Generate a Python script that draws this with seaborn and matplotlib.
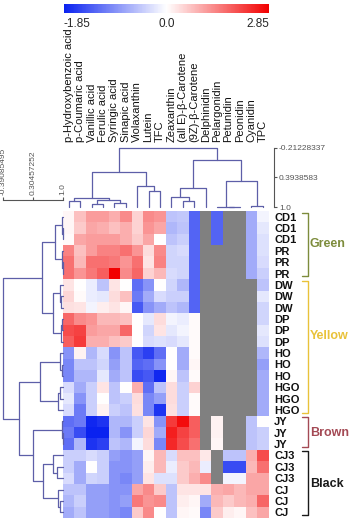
import numpy as np
import pandas as pd
import matplotlib
matplotlib.use("Agg")
import matplotlib.pyplot as plt
import seaborn as sns
from matplotlib.colors import LinearSegmentedColormap, TwoSlopeNorm

# ---------------- data ----------------
nan = np.nan

compounds = ["p-Hydroxybenzoic acid", "p-Coumaric acid", "Vanillic acid", "Ferulic acid",
             "Syringic acid", "Sinapic acid", "Violaxanthin", "Lutein", "TFC", "Zeaxanthin",
             "(all E)-\u03b2-Carotene", "(9Z)-\u03b2-Carotene", "Delphinidin", "Pelargonidin",
             "Petunidin", "Peonidin", "Cyanidin", "TPC"]

samples = ["CD1", "CD1", "CD1", "PR", "PR", "PR",
           "DW", "DW", "DW", "DP", "DP", "DP", "HO", "HO", "HO", "HGO", "HGO", "HGO",
           "JY", "JY", "JY",
           "CJ3", "CJ3", "CJ3", "CJ", "CJ", "CJ"]

values = [
    [0.1, 0.7, 1.1, 1.1, 0.9, 1.3, 0.5, 1.3, 1.2, -0.5, -0.45, -1.3, nan, -1.3, nan, nan, -0.7, -0.1],
    [0.1, 0.6, 1.0, 0.9, 0.7, 0.9, 0.5, 1.2, 1.0, -0.6, -0.5, -1.3, nan, -1.3, nan, nan, -0.7, -0.2],
    [0.05, 1.0, 1.1, 1.1, 1.1, 0.9, 0.6, 1.0, 0.0, -0.5, -0.4, -1.3, nan, -1.3, nan, nan, -0.7, -0.25],
    [1.4, 0.7, 1.1, 1.4, 1.4, 1.6, 1.2, 0.4, 1.3, -0.35, -0.3, -1.3, nan, nan, nan, nan, -0.7, -0.25],
    [1.6, 0.8, 1.6, 1.6, 1.5, 1.2, 1.6, 0.3, 1.4, -0.35, -0.35, -1.3, nan, nan, nan, nan, -0.7, -0.3],
    [1.6, 1.2, 1.5, 1.8, 2.85, 1.3, 1.7, 0.5, 0.8, -0.3, -0.35, -1.3, nan, nan, nan, nan, -0.7, -0.4],
    [0.3, 0.0, -0.15, -0.5, 0.3, 0.0, -1.2, -0.9, 0.0, -0.35, -0.6, -1.3, nan, nan, nan, nan, nan, -0.5],
    [0.45, 0.05, -0.15, -0.2, 0.4, 0.7, -1.1, -0.7, -0.3, -0.4, -0.4, -1.3, nan, nan, nan, nan, nan, -0.2],
    [0.35, 0.3, -0.1, 0.2, 0.3, 0.1, -1.4, -0.9, -0.7, -0.5, -0.6, -1.3, nan, nan, nan, nan, nan, -0.35],
    [1.7, 1.3, 1.2, 0.8, 0.8, 0.7, 0.0, -0.2, 0.4, -0.1, -0.15, 0.05, nan, nan, nan, nan, nan, -0.35],
    [2.0, 2.1, 1.1, 1.0, 1.0, 1.7, 0.0, -0.35, 0.3, -0.2, -0.1, 0.05, nan, nan, nan, nan, nan, -0.2],
    [1.8, 2.2, 0.9, 0.9, 0.7, 0.6, 0.0, -0.3, -0.25, -0.3, -0.2, 0.05, nan, nan, nan, nan, nan, -0.25],
    [-0.9, 0.15, -0.6, -0.3, -0.9, -0.5, -1.4, -1.6, -1.2, 0.0, -0.7, 0.05, nan, nan, nan, nan, nan, -0.6],
    [-1.0, -0.5, -0.5, -0.35, -0.8, -0.5, -1.3, -1.2, -0.9, 0.0, -0.7, 0.1, nan, nan, nan, nan, nan, -0.8],
    [-1.0, -0.6, -0.6, -0.2, -0.7, -0.5, -1.5, -1.4, -1.8, 0.1, -0.5, 0.05, nan, nan, nan, nan, nan, -0.7],
    [-0.3, -0.7, -0.4, 0.3, -0.5, 0.0, 0.9, -1.2, -0.5, 0.4, -0.4, 0.5, nan, nan, nan, nan, nan, -0.7],
    [-0.2, -0.9, -0.4, 0.0, -0.5, -0.4, 0.4, -1.0, -0.8, 0.4, -0.4, 0.05, nan, nan, nan, nan, nan, -0.7],
    [-0.3, -1.1, -0.4, 0.15, -0.4, -0.5, 0.35, -1.0, -1.7, 0.35, -0.4, 0.05, nan, nan, nan, nan, nan, -0.7],
    [-1.2, -1.1, -1.8, -1.7, -0.6, -0.6, -0.4, 0.3, -0.9, 2.2, 2.7, 1.8, nan, 0.15, nan, nan, -0.5, 0.0],
    [-1.1, -1.5, -1.85, -1.85, -0.6, -0.9, -0.4, 0.45, -0.7, 2.5, 2.1, 1.8, nan, 0.15, nan, nan, -0.5, -0.4],
    [-1.2, -0.6, -1.7, -1.6, -0.5, -0.6, -0.1, 0.4, -1.0, 2.4, 2.0, 1.6, nan, 0.1, nan, nan, -0.5, -0.4],
    [-0.4, -0.4, -0.3, -0.4, -0.8, -0.9, -0.8, 0.1, 0.8, -0.3, 0.7, 0.7, 0.25, nan, -0.5, -0.5, 0.9, 2.0],
    [-0.4, -0.7, 0.0, -0.4, -0.9, -0.9, -0.8, 0.2, 0.8, -0.15, 0.6, 0.8, -0.15, nan, -1.5, -1.5, 0.8, 1.6],
    [-0.3, -0.7, -0.35, -0.4, -0.9, -1.0, -0.8, 0.3, -0.25, -0.25, 0.6, 0.9, 1.3, nan, -0.1, -0.1, 1.0, 1.0],
    [-0.5, -0.5, -0.8, -0.8, -0.9, -0.9, 1.0, 1.3, 0.6, -0.5, 0.3, 0.3, 0.3, 0.9, 1.0, 0.8, 1.0, 1.0],
    [-0.6, -0.4, -0.8, -0.8, -0.9, -0.8, 1.5, 1.2, 1.3, -0.5, 0.2, 0.1, -0.7, 0.8, 0.6, 0.8, 0.9, 1.7],
    [-0.7, -0.5, -0.8, -0.8, -0.9, -1.0, 0.6, 1.3, 0.0, -0.5, 0.1, 0.05, -1.0, 0.6, 0.2, 0.1, 0.7, 1.0],
]

# dendrograms: (merge height, left, right), leaves are indices
col_tree = (-0.21228337,
            (0.286,
             (0.82, (0.88, 0, 1), (0.86, (0.935, 2, 3), (0.91, 4, 5))),
             (0.56, 6, (0.67, 7, 8))),
            (0.041,
             (0.617, (0.79, 9, (0.885, 10, 11)), 12),
             (0.474, (0.99, 13, (0.995, 14, 15)), (0.98, 16, 17))))

row_tree = (-0.39085495,
            (0.506,
             (0.815, (0.97, 0, (0.99, 1, 2)), (0.975, 3, (0.99, 4, 5))),
             (0.76, (0.93, 6, (0.96, 7, 8)), (0.965, (0.985, 9, 10), 11))),
            (-0.013,
             (0.467, (0.94, 12, (0.97, 13, 14)), (0.895, (0.94, 15, 16), 17)),
             (0.298,
              (0.98, 18, (0.99, 19, 20)),
              (0.543, (0.775, 21, (0.86, 22, 23)), (0.89, 24, (0.93, 25, 26))))))

col_scale = [-0.21228337, 0.3938583, 1.0]
col_scale_labels = ["-0.21228337", "0.3938583", "1.0"]
row_scale = [-0.39085495, 0.30457252, 1.0]
row_scale_labels = ["-0.39085495", "0.30457252", "1.0"]

groups = ["Green", "Yellow", "Brown", "Black"]
group_spans = [(0, 6), (6, 18), (18, 21), (21, 27)]
group_colors = ["#7d8c3c", "#e9c23a", "#a44a55", "#1a1a1a"]

vmin, vmax = -1.85, 2.85

# ---------------- figure ----------------
sns.set_style("white")
plt.rcParams["font.family"] = ["Liberation Sans", "DejaVu Sans"]

W, H = 358, 524
fig = plt.figure(figsize=(W / 100, H / 100), dpi=100)


def box(x0, y0, x1, y1):
    return [x0 / W, 1 - y1 / H, (x1 - x0) / W, (y1 - y0) / H]


ax_heat = fig.add_axes(box(63, 211, 268.5, 518))
ax_cbar = fig.add_axes(box(64, 4, 269, 12.5))
ax_top = fig.add_axes(box(63, 148, 268.5, 207))
ax_left = fig.add_axes(box(3, 211, 63, 518))
ax_grp = fig.add_axes(box(298, 211, 358, 518))

df = pd.DataFrame(values, index=samples, columns=compounds)
cmap = LinearSegmentedColormap.from_list("bwr2", ["#0a22f0", "#ffffff", "#f20000"])
norm = TwoSlopeNorm(vmin=vmin, vcenter=0.0, vmax=vmax)

ax_heat.set_facecolor("#808080")
sns.heatmap(df, ax=ax_heat, cmap=cmap, norm=norm, cbar_ax=ax_cbar,
            cbar_kws={"orientation": "horizontal"},
            xticklabels=False, yticklabels=samples)
ax_heat.yaxis.tick_right()
ax_heat.tick_params(axis="y", length=0, pad=4, labelsize=8)
for t in ax_heat.get_yticklabels():
    t.set_rotation(0)
    t.set_fontweight("bold")
    t.set_color("#111111")

# colorbar
cbar = ax_heat.collections[0].colorbar
cbar.outline.set_visible(False)
cbar.set_ticks([vmin, 0.0, vmax])
cbar.set_ticklabels(["-1.85", "0.0", "2.85"])
ax_cbar.tick_params(axis="x", length=0, labelsize=8.5, pad=4)
lbls = ax_cbar.get_xticklabels()
lbls[0].set_ha("left")
lbls[-1].set_ha("right")

# dendrograms
line_color = "#5d5fa8"


def draw_tree(ax, node, orient):
    if isinstance(node, int):
        return node + 0.5, 1.0
    h, a, b = node
    pa, ha = draw_tree(ax, a, orient)
    pb, hb = draw_tree(ax, b, orient)
    pos = [pa, pa, pb, pb]
    hts = [ha, h, h, hb]
    if orient == "top":
        ax.plot(pos, hts, color=line_color, lw=0.9, clip_on=False)
    else:
        ax.plot(hts, pos, color=line_color, lw=0.9, clip_on=False)
    return (pa + pb) / 2, h


draw_tree(ax_top, col_tree, "top")
ax_top.set_xlim(0, len(compounds))
ax_top.set_ylim(1.0, col_scale[0])
for s in ["left", "bottom", "top"]:
    ax_top.spines[s].set_visible(False)
ax_top.spines["right"].set_position(("outward", 4))
ax_top.spines["right"].set_color("#555555")
ax_top.spines["right"].set_linewidth(0.8)
ax_top.yaxis.tick_right()
ax_top.set_yticks(col_scale)
ax_top.set_yticklabels(col_scale_labels)
ax_top.tick_params(axis="y", direction="out", length=2.5, width=0.8, colors="#555555",
                   labelsize=6, pad=1)
ax_top.xaxis.tick_top()
ax_top.set_xticks(np.arange(len(compounds)) + 0.5)
ax_top.set_xticklabels(compounds, rotation=90, fontsize=8, color="#111111")
ax_top.tick_params(axis="x", length=0, pad=4)

draw_tree(ax_left, row_tree, "left")
ax_left.set_ylim(len(samples), 0)
ax_left.set_xlim(row_scale[0], 1.0)
for s in ["left", "bottom", "right"]:
    ax_left.spines[s].set_visible(False)
ax_left.spines["top"].set_position(("outward", 8))
ax_left.spines["top"].set_color("#555555")
ax_left.spines["top"].set_linewidth(0.8)
ax_left.set_yticks([])
ax_left.xaxis.tick_top()
ax_left.set_xticks(row_scale)
ax_left.set_xticklabels(row_scale_labels, rotation=90)
ax_left.tick_params(axis="x", direction="out", length=2.5, width=0.8, colors="#555555",
                    labelsize=6, pad=1)

# group brackets
label_rows = [2.9, 11.0, 19.5, 24.0]
ax_grp.set_xlim(298, 358)
ax_grp.set_ylim(len(samples), 0)
ax_grp.axis("off")
for name, (a, b), c, ly in zip(groups, group_spans, group_colors, label_rows):
    ax_grp.plot([302, 307.5, 307.5, 302], [a + 0.15, a + 0.15, b - 0.25, b - 0.25],
                color=c, lw=1.0)
    ax_grp.text(310, ly, name, color=c, fontsize=9, fontweight="bold", va="center", ha="left")

fig.savefig("out.png", dpi=100, facecolor="white")
